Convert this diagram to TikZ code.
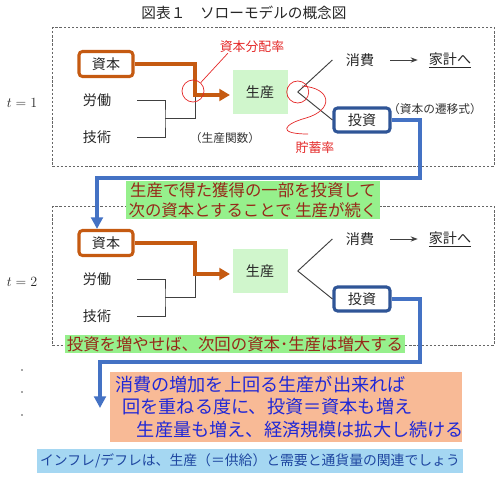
\documentclass[tikz,border=0pt]{standalone}
\usepackage{fontspec}
\setmainfont{Noto Sans CJK JP}
\usetikzlibrary{arrows.meta}

\definecolor{caporange}{RGB}{197,90,17}
\definecolor{invblue}{RGB}{47,85,151}
\definecolor{flowblue}{RGB}{68,114,196}
\definecolor{prodgreen}{RGB}{208,246,204}
\definecolor{notegreen}{RGB}{150,240,140}
\definecolor{notered}{RGB}{150,40,25}
\definecolor{salmon}{RGB}{248,186,150}
\definecolor{salmontext}{RGB}{32,40,215}
\definecolor{skyblue}{RGB}{165,215,242}
\definecolor{skytext}{RGB}{30,70,160}
\definecolor{markred}{RGB}{228,40,40}

\begin{document}
\begin{tikzpicture}[x=0.03cm, y=-0.03cm,
    % Box styles (capital, production, investment)
    capbox/.style={draw=caporange, line width=2.6pt, rounded corners=3pt, fill=white, text=black!85, font=\fontsize{12}{14}\selectfont, minimum width=1.62cm, minimum height=0.75cm, inner sep=0pt},
    invbox/.style={draw=invblue, line width=2.6pt, rounded corners=3pt, fill=white, text=black!85, font=\fontsize{12}{14}\selectfont, minimum width=1.68cm, minimum height=0.72cm, inner sep=0pt},
    prodbox/.style={fill=prodgreen, text=black!85, font=\fontsize{12}{14}\selectfont, minimum width=1.65cm, minimum height=1.3cm, inner sep=0pt},
    plain/.style={text=black!85, font=\fontsize{12}{14}\selectfont, inner sep=0pt},
    note/.style={text=black!80, font=\fontsize{10}{12}\selectfont, inner sep=0pt},
    tlabel/.style={text=black!85, font=\fontsize{12}{14}\selectfont, inner sep=0pt},
    % Annotation styles (red marks)
    marktext/.style={text=markred, font=\fontsize{11}{13}\selectfont, inner sep=0pt},
    markcirc/.style={draw=markred, circle, minimum size=0.66cm, inner sep=0pt, line width=0.6pt},
    markline/.style={draw=markred, line width=0.6pt},
    % Callout boxes
    greennote/.style={fill=notegreen, text=notered, font=\fontsize{14}{17}\selectfont, align=center, inner xsep=2pt, inner ysep=1pt},
    salmonnote/.style={fill=salmon, text=salmontext, font=\fontsize{15.5}{19.5}\selectfont, align=left, text width=10.25cm, inner xsep=4pt, inner ysep=3pt},
    bluenote/.style={fill=skyblue, text=skytext, font=\fontsize{11.8}{14}\selectfont, inner xsep=3pt, inner ysep=4pt},
    % Lines
    frame/.style={draw=gray!80!black, line width=0.5pt, dash pattern=on 2pt off 1.5pt},
    wire/.style={draw=black!75, line width=0.8pt},
    caparrow/.style={draw=caporange, line width=3.4pt, -{Triangle[length=9pt, width=10pt]}, shorten >=2pt},
    flow/.style={draw=flowblue, line width=3.2pt, -{Triangle[length=10pt, width=10pt]}}
]
\useasboundingbox (0,0) rectangle (500,477);

% ---------------------------------------------------------
% 1. TITLE
% ---------------------------------------------------------
\node[plain, font=\fontsize{12.5}{14}\selectfont] (title) at (244,13) {図表１　ソローモデルの概念図};

% ---------------------------------------------------------
% 2. PERIODS t=1 and t=2
% ---------------------------------------------------------
\foreach \t/\dy in {1/0, 2/179} {
  \draw[frame] (52,27+\dy) rectangle (494,166+\dy);
  \node[tlabel] (tlab\t) at (22,103+\dy) {$t = \t$};

  \node[capbox] (shihon\t) at (106,64+\dy) {資本};
  \node[plain] (roudou\t) at (97,100+\dy) {労働};
  \node[plain] (gijutsu\t) at (97,137+\dy) {技術};
  \node[prodbox] (seisan\t) at (260,92+\dy) {生産};
  \node[plain] (shouhi\t) at (360,60+\dy) {消費};
  \node[plain] (kakei\t) at (450,60+\dy) {\underline{家計へ}};
  \node[invbox] (toushi\t) at (362,120+\dy) {投資};

  \coordinate (fork\t) at (165,118.5+\dy);
  \coordinate (merge\t) at (195,95+\dy);
  \coordinate (split\t) at ([xshift=0.3cm]seisan\t.east);

  % inputs into production
  \draw[wire] ([xshift=0.78cm]roudou\t.east) -| (fork\t) |- ([xshift=0.78cm]gijutsu\t.east);
  \draw[wire] (fork\t) -| (merge\t);
  \draw[caparrow] (shihon\t.east) -| (merge\t) -- (merge\t -| seisan\t.west);

  % output split
  \draw[wire] (split\t) -- ([xshift=-0.4cm]shouhi\t.west);
  \draw[wire] (split\t) -- (toushi\t.west);
  \draw[wire, -{Stealth[length=6pt]}] ([xshift=0.48cm]shouhi\t.east) -- ([xshift=-0.33cm]kakei\t.west);
}

% ---------------------------------------------------------
% 3. ANNOTATIONS (t=1 only)
% ---------------------------------------------------------
\node[markcirc] (ring1) at (193,91) {};
\node[markcirc] (ring2) at (split1) {};
\node[marktext] (bunpai) at (252,47) {資本分配率};
\node[marktext] (chochiku) at (315,148) {貯蓄率};
\draw[markline] (ring1) -- ([xshift=0.25cm]bunpai.south west);
\draw[markline] (302,86) .. controls (332,88) and (334,110) .. (306,118)
                .. controls (284,124) and (276,134) .. (308,134);

\node[note] (kansu) at (225,138) {（生産関数）};
\node[note] (seni) at (435,109) {（資本の遷移式）};

% ---------------------------------------------------------
% 4. INVESTMENT FLOW (to next period)
% ---------------------------------------------------------
\coordinate (turn1) at (420,178);
\draw[flow] (toushi1.east) -| (turn1) -| ([xshift=-0.27cm]shihon2.north);

\coordinate (turn2) at (420,362);
\coordinate (next) at (100,408);
\draw[flow] (toushi2.east) -| (turn2) -| (next);

\foreach \y in {370, 392, 415} \fill[black!70] (22,\y) circle (0.9);

% ---------------------------------------------------------
% 5. CALLOUTS
% ---------------------------------------------------------
\node[greennote] (carry) at (253,200) {生産で得た獲得の一部を投資して\\次の資本とすることで 生産が続く};
\node[greennote] (grow) at (235,344) {投資を増やせば、次回の資本･生産は増大する};
\node[salmonnote] (expand) at (286,407) {消費の増加を上回る生産が出来れば\\\hspace*{0.4em}回を重ねる度に、投資＝資本も増え\\\hspace*{1.2em}生産量も増え、経済規模は拡大し続ける};
\node[bluenote] (infl) at (250,461) {インフレ/デフレは、生産（＝供給）と需要と通貨量の関連でしょう};

\end{tikzpicture}
\end{document}
